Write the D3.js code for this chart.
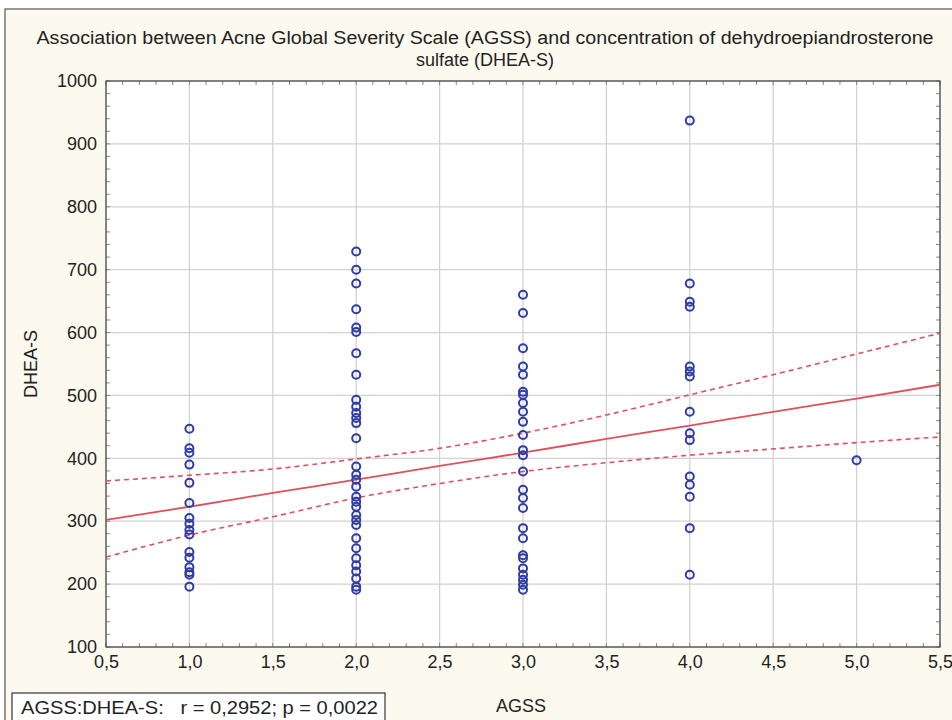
<html>
<head>
<title>AGSS vs DHEA-S</title>
<script src="https://cdnjs.cloudflare.com/ajax/libs/d3/7.8.5/d3.min.js"></script>
<style>
body { margin: 0; background: #ffffff; }
text { font-family: "Liberation Sans", Arial, sans-serif; fill: #222; }
</style>
</head>
<body>
<svg id="chart" width="952" height="720"></svg>
<script>
// values
var titleLines = ['Association between Acne Global Severity Scale (AGSS) and concentration of dehydroepiandrosterone',
                  'sulfate (DHEA-S)'];
var xTicks = [0.5, 1, 1.5, 2, 2.5, 3, 3.5, 4, 4.5, 5, 5.5];
var yTicks = [100, 200, 300, 400, 500, 600, 700, 800, 900, 1000];

var dheaAgss1 = [447, 416, 409, 390, 361, 329, 305, 296, 286, 279, 251, 242, 227, 219, 215, 196];
var dheaAgss2 = [729, 700, 678, 637, 608, 601, 567, 533, 493, 482, 472, 464, 456, 432, 387, 374, 366,
                 355, 339, 331, 323, 310, 302, 294, 273, 257, 241, 230, 220, 209, 196, 191];
var dheaAgss3 = [660, 631, 575, 546, 533, 506, 501, 488, 474, 458, 437, 413, 405, 379, 350, 337, 321,
                 289, 273, 246, 241, 225, 215, 207, 199, 191];
var dheaAgss4 = [937, 678, 649, 641, 546, 538, 530, 474, 440, 429, 371, 358, 339, 289, 215];
var dheaAgss5 = [397];

// fitted line and 95% confidence band, read at each half step
var fitX     = [0.5, 1, 1.5, 2, 2.5, 3, 3.5, 4, 4.5, 5, 5.5];
var fitLine  = [302, 323, 345, 366, 388, 409, 431, 452, 474, 495, 517];
var fitUpper = [364, 373, 383, 399, 416, 440, 469, 501, 533, 566, 599];
var fitLower = [243, 278, 307, 337, 360, 379, 393, 405, 415, 425, 434];

var statText = 'AGSS:DHEA-S:   r = 0,2952; p = 0,0022';

var points = [];
[dheaAgss1, dheaAgss2, dheaAgss3, dheaAgss4, dheaAgss5].forEach(function (list, i) {
    list.forEach(function (v) { points.push({ agss: i + 1, dhea: v }); });
});

var svg = d3.select('#chart');
var pLeft = 106, pRight = 940, pTop = 81, pBottom = 647;

svg.append('rect')
    .attr('x', 5).attr('y', 9).attr('width', 960).attr('height', 720)
    .attr('fill', '#fcfaee').attr('stroke', '#555').attr('stroke-width', 1.2);

var x = d3.scaleLinear().domain([0.5, 5.5]).range([pLeft, pRight]);
var y = d3.scaleLinear().domain([100, 1000]).range([pBottom, pTop]);
var comma = function (d) { return d3.format('.1f')(d).replace('.', ','); };

svg.append('rect')
    .attr('x', pLeft).attr('y', pTop).attr('width', pRight - pLeft).attr('height', pBottom - pTop)
    .attr('fill', '#ffffff');

// grid
svg.append('g')
    .selectAll('line').data(xTicks).enter().append('line')
    .attr('x1', function (d) { return x(d); }).attr('x2', function (d) { return x(d); })
    .attr('y1', pTop).attr('y2', pBottom)
    .attr('stroke', '#d2d2d2').attr('stroke-width', 1.3);
svg.append('g')
    .selectAll('line').data(yTicks).enter().append('line')
    .attr('x1', pLeft).attr('x2', pRight)
    .attr('y1', function (d) { return y(d); }).attr('y2', function (d) { return y(d); })
    .attr('stroke', '#d2d2d2').attr('stroke-width', 1.3);

// minor ticks inside the frame
var xMinor = d3.range(5, 56).map(function (d) { return d / 10; });
var yMinor = d3.range(100, 1001, 20);
var minor = svg.append('g').attr('stroke', '#888').attr('stroke-width', 1);
xMinor.forEach(function (d) {
    minor.append('line').attr('x1', x(d)).attr('x2', x(d)).attr('y1', pTop).attr('y2', pTop + 4);
    minor.append('line').attr('x1', x(d)).attr('x2', x(d)).attr('y1', pBottom).attr('y2', pBottom - 4);
});
yMinor.forEach(function (d) {
    minor.append('line').attr('x1', pLeft).attr('x2', pLeft + 4).attr('y1', y(d)).attr('y2', y(d));
    minor.append('line').attr('x1', pRight).attr('x2', pRight - 4).attr('y1', y(d)).attr('y2', y(d));
});

svg.append('rect')
    .attr('x', pLeft).attr('y', pTop).attr('width', pRight - pLeft).attr('height', pBottom - pTop)
    .attr('fill', 'none').attr('stroke', '#444').attr('stroke-width', 1.2);

// axis labels through d3 axes
var xAxis = d3.axisBottom(x).tickValues(xTicks).tickFormat(comma).tickSize(0).tickPadding(8);
svg.append('g').attr('transform', 'translate(0,' + pBottom + ')').call(xAxis)
    .call(function (g) { g.select('.domain').remove(); })
    .selectAll('text').style('font-size', '18px').attr('fill', '#222');

var yAxis = d3.axisLeft(y).tickValues(yTicks).tickFormat(d3.format('d')).tickSize(0).tickPadding(9);
svg.append('g').attr('transform', 'translate(' + pLeft + ',0)').call(yAxis)
    .call(function (g) { g.select('.domain').remove(); })
    .selectAll('text').style('font-size', '18px').attr('fill', '#222');

// confidence band and fit
var line = d3.line()
    .x(function (d) { return x(d[0]); })
    .y(function (d) { return y(d[1]); })
    .curve(d3.curveMonotoneX);
var zip = function (ys) { return fitX.map(function (v, i) { return [v, ys[i]]; }); };

svg.append('path').datum(zip(fitUpper)).attr('d', line)
    .attr('fill', 'none').attr('stroke', '#e0505a').attr('stroke-width', 1.6).attr('stroke-dasharray', '5,4');
svg.append('path').datum(zip(fitLower)).attr('d', line)
    .attr('fill', 'none').attr('stroke', '#e0505a').attr('stroke-width', 1.6).attr('stroke-dasharray', '5,4');
svg.append('path').datum(zip(fitLine)).attr('d', line)
    .attr('fill', 'none').attr('stroke', '#e0505a').attr('stroke-width', 1.8);

// points
svg.append('g')
    .selectAll('circle').data(points).enter().append('circle')
    .attr('cx', function (d) { return x(d.agss); })
    .attr('cy', function (d) { return y(d.dhea); })
    .attr('r', 4)
    .attr('fill', 'none')
    .attr('stroke', '#2f3ca8')
    .attr('stroke-width', 2);

// titles
svg.append('g').selectAll('text').data(titleLines).enter().append('text')
    .attr('x', 485).attr('y', function (d, i) { return 44 + i * 22; })
    .attr('text-anchor', 'middle')
    .style('font-size', '18px')
    .attr('textLength', function (d, i) { return i === 0 ? 897 : null; })
    .attr('lengthAdjust', 'spacingAndGlyphs')
    .text(function (d) { return d; });

svg.append('text')
    .attr('transform', 'translate(37,' + ((pTop + pBottom) / 2) + ') rotate(-90)')
    .attr('text-anchor', 'middle')
    .style('font-size', '18px')
    .text('DHEA-S');

svg.append('text')
    .attr('x', 521).attr('y', 712)
    .attr('text-anchor', 'middle')
    .style('font-size', '18px')
    .text('AGSS');

svg.append('rect')
    .attr('x', 12).attr('y', 693).attr('width', 373).attr('height', 32)
    .attr('fill', '#ffffff').attr('stroke', '#333').attr('stroke-width', 1.2);
svg.append('text')
    .attr('x', 21).attr('y', 714)
    .style('font-size', '18px')
    .attr('textLength', 357)
    .attr('lengthAdjust', 'spacingAndGlyphs')
    .attr('xml:space', 'preserve')
    .text(statText);
</script>
</body>
</html>
